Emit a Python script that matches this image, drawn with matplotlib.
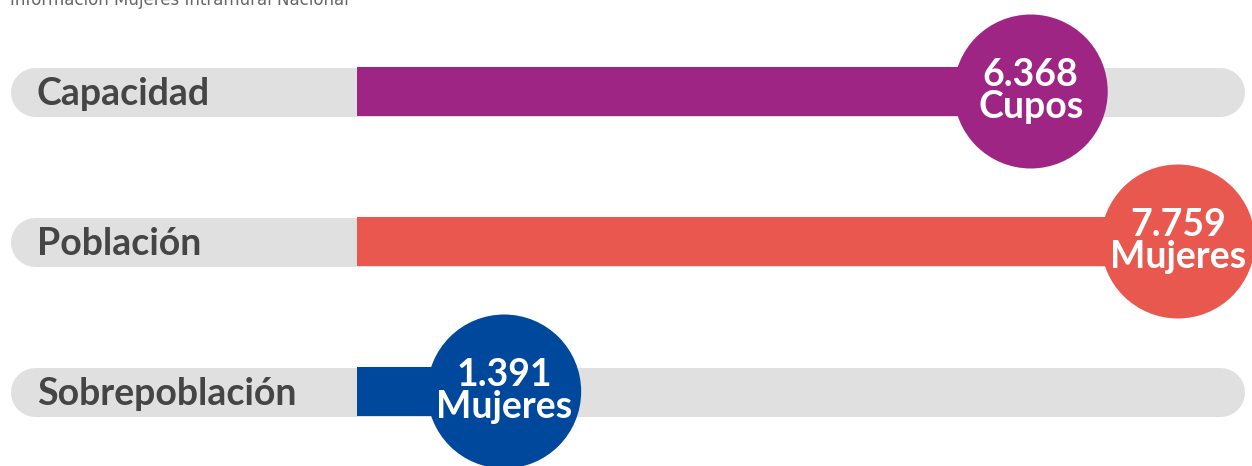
import numpy as np
import matplotlib.pyplot as plt

categories = ['Capacidad', 'Población', 'Sobrepoblación']
values = [6368, 7759, 1391]
value_labels = ['6.368', '7.759', '1.391']
units = ['Cupos', 'Mujeres', 'Mujeres']
colors = ['#9e2583', '#e8584e', '#00489b']
title = 'Información Mujeres Intramural Nacional'

W, H = 1252, 466
fig = plt.figure(figsize=(W / 100, H / 100), dpi=100)
ax = fig.add_axes([0, 0, 1, 1])

# pixel layout: value 0 at x=357, ~0.1058 px per unit; rows 150 px apart
px_per_unit = 0.1058
x0_px = 357
ax.set_xlim(-x0_px / px_per_unit, (W - x0_px) / px_per_unit)
row_px = 150
y0_px = 91.5
ax.set_ylim((H - y0_px) / row_px, -y0_px / row_px)
ax.axis('off')

y = np.arange(len(categories))
bar_h = 49 / row_px
pill_left = (35 - x0_px) / px_per_unit
pill_right = (1220 - x0_px) / px_per_unit

for i, cat in enumerate(categories):
    ax.plot([pill_left, pill_right], [y[i], y[i]], color='#e0e0e0',
            lw=49 * 0.72, solid_capstyle='round', zorder=1)
    ax.text((37 - x0_px) / px_per_unit, y[i] + 13.5 / row_px, cat, ha='left',
            va='baseline', fontsize=27, fontweight='bold', color='#454545',
            family='Lato', zorder=2)

ax.barh(y, values, height=bar_h, left=0, color=colors, zorder=3)
ax.scatter(values, y, s=(2 * 77 * 0.72) ** 2, c=colors, linewidths=0, zorder=4)

for i in range(len(values)):
    ax.text(values[i], y[i] - 6 / row_px, value_labels[i], ha='center',
            va='baseline', fontsize=27, fontweight='bold', color='white',
            family='Lato', zorder=5)
    ax.text(values[i], y[i] + 26 / row_px, units[i], ha='center',
            va='baseline', fontsize=27, fontweight='bold', color='white',
            family='Lato', zorder=5)

fig.text(10 / W, 1 - 5 / H, title, ha='left', va='baseline', fontsize=12,
         color='#666666')

fig.savefig('out.png', dpi=100)
